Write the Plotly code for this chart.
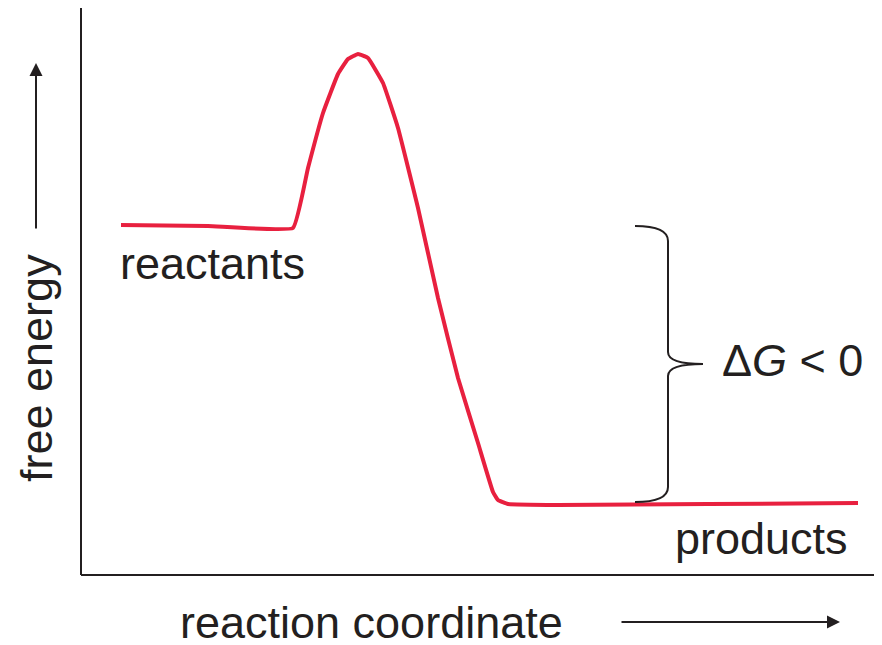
import plotly.graph_objects as go

# reaction profile, in picture units (x to the right, y downward)
coord = [113, 200, 285, 300, 315, 330, 340, 350, 360, 375, 390, 410, 430, 450, 470, 485, 490, 500, 550, 700, 850]
energy = [217, 218, 220, 160, 105, 66, 51, 46, 50, 75, 120, 200, 290, 370, 435, 484, 492, 496, 497, 496, 495]

reactant_level = 218
product_level = 494

fig = go.Figure()
fig.add_trace(go.Scatter(x=coord, y=energy, mode="lines",
                         line=dict(color="#e8203f", width=4, shape="spline", smoothing=0.3),
                         hoverinfo="skip"))

font = dict(family="Liberation Sans, Arial", size=45, color="#231f20")
blk = "#231f20"

# axes
fig.add_shape(type="line", x0=73, y0=0, x1=73, y1=567, line=dict(color=blk, width=2))
fig.add_shape(type="line", x0=73, y0=567, x1=882, y1=567, line=dict(color=blk, width=2))

# brace for delta G
mid = (reactant_level + product_level) / 2
path = (f"M 627 {reactant_level} Q 660 {reactant_level} 660 {reactant_level+15} "
        f"L 660 {mid-12} Q 660 {mid} 695 {mid} Q 660 {mid} 660 {mid+12} "
        f"L 660 {product_level-15} Q 660 {product_level} 627 {product_level}")
fig.add_shape(type="path", path=path, line=dict(color=blk, width=2))

anns = [
    dict(x=110, y=255, text="reactants", xanchor="left"),
    dict(x=665, y=530, text="products", xanchor="left"),
    dict(x=712, y=352, text="Δ<i>G</i> < 0", xanchor="left"),
    dict(x=170, y=614, text="reaction coordinate", xanchor="left"),
    dict(x=28, y=360, text="free energy", textangle=-90),
]
for a in anns:
    fig.add_annotation(xref="x", yref="y", showarrow=False, font=font, yanchor="middle", **a)

# arrows
fig.add_annotation(x=832, y=614, ax=612, ay=614, xref="x", yref="y", axref="x", ayref="y",
                   text="", showarrow=True, arrowhead=2, arrowsize=1.3, arrowwidth=2, arrowcolor=blk)
fig.add_annotation(x=28, y=55, ax=28, ay=222, xref="x", yref="y", axref="x", ayref="y",
                   text="", showarrow=True, arrowhead=2, arrowsize=1.3, arrowwidth=2, arrowcolor=blk)

fig.update_xaxes(range=[0, 882], visible=False)
fig.update_yaxes(range=[645, 0], visible=False)
fig.update_layout(width=882, height=645, margin=dict(l=0, r=0, t=0, b=0),
                  plot_bgcolor="white", paper_bgcolor="white", showlegend=False)
fig.write_html("out.html")
